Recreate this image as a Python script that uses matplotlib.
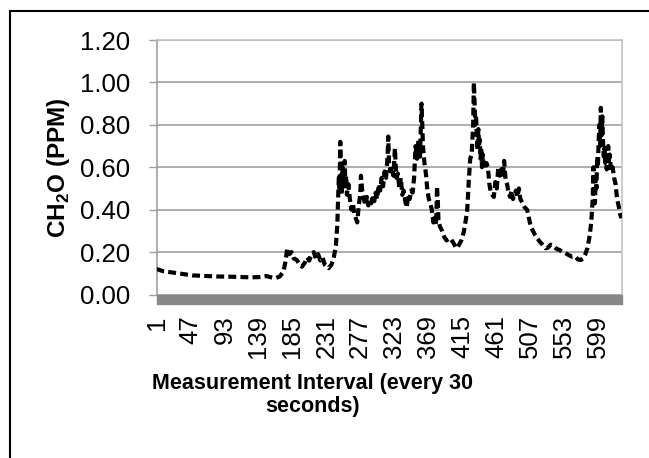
import matplotlib
matplotlib.use("Agg")
import matplotlib.pyplot as plt
from matplotlib.patches import Rectangle

plt.rcParams['font.family'] = ['Liberation Sans', 'DejaVu Sans']
plt.rcParams['mathtext.fontset'] = 'custom'
plt.rcParams['mathtext.rm'] = 'Liberation Sans'
plt.rcParams['mathtext.bf'] = 'Liberation Sans:bold'

interval = [1, 10, 20, 37, 50, 70, 83, 100, 128, 140, 150, 155, 162, 168, 173, 176, 178, 181, 184, 187,
            191, 195, 198, 202, 205, 208, 211, 214, 217, 220, 223, 226, 229, 234, 238, 241, 244, 246, 247, 248,
            249, 250, 251, 252, 253, 254, 255, 256, 257, 258, 259, 261, 263, 265, 267, 269, 271, 273, 275, 277,
            278, 280, 282, 284, 286, 288, 290, 292, 294, 296, 298, 300, 302, 304, 306, 308, 310, 312, 314, 315,
            316, 318, 320, 322, 324, 326, 328, 330, 332, 334, 336, 338, 340, 342, 344, 346, 348, 350, 352, 354,
            356, 358, 360, 361, 362, 364, 366, 368, 370, 372, 374, 376, 378, 380, 381, 382, 383, 385, 388, 391,
            394, 397, 400, 403, 406, 408, 411, 414, 417, 420, 422, 424, 426, 428, 430, 431, 432, 433, 434, 435,
            436, 437, 438, 439, 440, 441, 442, 443, 444, 446, 448, 450, 452, 454, 456, 458, 460, 462, 464, 466,
            468, 470, 472, 474, 476, 478, 480, 482, 484, 486, 488, 490, 492, 494, 497, 500, 503, 505, 508, 511,
            514, 517, 520, 524, 528, 531, 535, 539, 543, 547, 551, 555, 560, 564, 568, 572, 576, 579, 582, 585,
            588, 590, 592, 593, 594, 595, 596, 597, 598, 599, 600, 601, 602, 603, 604, 605, 606, 607, 608, 609,
            610, 611, 612, 613, 614, 615, 617, 619, 621, 623, 625, 627, 629, 631]
ppm = [0.12, 0.11, 0.105, 0.097, 0.09, 0.087, 0.085, 0.084, 0.081, 0.082, 0.087, 0.082, 0.077, 0.085, 0.108, 0.16, 0.218, 0.19, 0.20, 0.17,
       0.163, 0.14, 0.131, 0.15, 0.175, 0.16, 0.19, 0.20, 0.17, 0.19, 0.16, 0.175, 0.14, 0.124, 0.14, 0.17, 0.23, 0.33, 0.45, 0.55,
       0.50, 0.72, 0.55, 0.47, 0.60, 0.52, 0.58, 0.63, 0.50, 0.56, 0.47, 0.52, 0.45, 0.40, 0.43, 0.38, 0.36, 0.34, 0.42, 0.47,
       0.56, 0.48, 0.45, 0.42, 0.46, 0.42, 0.45, 0.43, 0.47, 0.44, 0.48, 0.45, 0.52, 0.49, 0.55, 0.51, 0.58, 0.55, 0.65, 0.745,
       0.62, 0.58, 0.60, 0.56, 0.69, 0.55, 0.57, 0.50, 0.55, 0.47, 0.49, 0.44, 0.41, 0.47, 0.45, 0.49, 0.48, 0.55, 0.70, 0.64,
       0.73, 0.65, 0.90, 0.81, 0.70, 0.62, 0.57, 0.49, 0.45, 0.43, 0.40, 0.34, 0.37, 0.33, 0.51, 0.45, 0.35, 0.32, 0.30, 0.27,
       0.255, 0.265, 0.26, 0.245, 0.225, 0.218, 0.235, 0.255, 0.29, 0.35, 0.40, 0.53, 0.64, 0.66, 0.80, 1.00, 0.90, 0.80, 0.84, 0.75,
       0.68, 0.78, 0.70, 0.73, 0.64, 0.69, 0.60, 0.66, 0.62, 0.59, 0.62, 0.60, 0.52, 0.48, 0.47, 0.46, 0.53, 0.50, 0.60, 0.56,
       0.59, 0.55, 0.63, 0.54, 0.52, 0.48, 0.46, 0.49, 0.45, 0.47, 0.49, 0.46, 0.50, 0.45, 0.43, 0.41, 0.40, 0.37, 0.32, 0.30,
       0.28, 0.265, 0.25, 0.235, 0.218, 0.22, 0.235, 0.23, 0.215, 0.21, 0.20, 0.195, 0.185, 0.178, 0.18, 0.165, 0.163, 0.17, 0.19, 0.22,
       0.28, 0.34, 0.45, 0.60, 0.48, 0.43, 0.55, 0.50, 0.65, 0.60, 0.72, 0.80, 0.70, 0.88, 0.75, 0.84, 0.72, 0.65, 0.69, 0.62,
       0.66, 0.59, 0.64, 0.70, 0.62, 0.66, 0.58, 0.60, 0.55, 0.52, 0.45, 0.42, 0.38, 0.36]

x_ticks = [1, 47, 93, 139, 185, 231, 277, 323, 369, 415, 461, 507, 553, 599]
y_ticks = [0.0, 0.2, 0.4, 0.6, 0.8, 1.0, 1.2]

W, H = 649, 458
fig = plt.figure(figsize=(W / 100, H / 100), dpi=100)
ax = fig.add_axes([156.5 / W, 1 - 294.5 / H, 465 / W, 254.5 / H])

# outer chart frame (only left and top edges fall inside the image)
fig.add_artist(Rectangle((10 / W, -0.2), 1.2, 0.2 + (H - 11) / H,
                         transform=fig.transFigure, fill=False, lw=1.5, ec='black'))

ax.plot(interval, ppm, color='black', lw=3.0, linestyle=(0, (1.9, 1.0)), zorder=3)

ax.set_xlim(1, 631)
ax.set_ylim(0, 1.2)
ax.set_yticks(y_ticks)
ax.set_yticklabels([f'{v:.2f}' for v in y_ticks])
ax.set_xticks(x_ticks)
ax.set_xticklabels([str(t) for t in x_ticks], rotation=90, va='top', ha='center')

ax.grid(axis='y', color='#a0a0a0', lw=1.2)
ax.set_axisbelow(True)
ax.tick_params(axis='y', length=6, width=1, color='#a0a0a0', labelsize=18.5, pad=13)
ax.tick_params(axis='x', length=0, labelsize=18.5, pad=15)

ax.spines['left'].set_color('#a0a0a0')
ax.spines['left'].set_linewidth(1.2)
for s in ['top', 'right']:
    ax.spines[s].set_color('#c4c4c4')
    ax.spines[s].set_linewidth(1.2)
ax.spines['bottom'].set_visible(False)

# thick grey floor under the plot
ax.add_patch(Rectangle((0, -9.5 / 254.5), 1, 9.5 / 254.5, transform=ax.transAxes,
                       color='#878787', clip_on=False, zorder=4))

ax.set_ylabel(r'CH$_\mathbf{2}$O (PPM)', fontsize=17.5, fontweight='bold')
ax.yaxis.set_label_coords((72 - 156.5) / 465, 0.5)

fig.text(313 / W, 1 - 373 / H, 'Measurement Interval (every 30\nseconds)',
         ha='center', va='top', fontsize=15.5, fontweight='bold', linespacing=1.15)

fig.savefig('out.png', dpi=100)
